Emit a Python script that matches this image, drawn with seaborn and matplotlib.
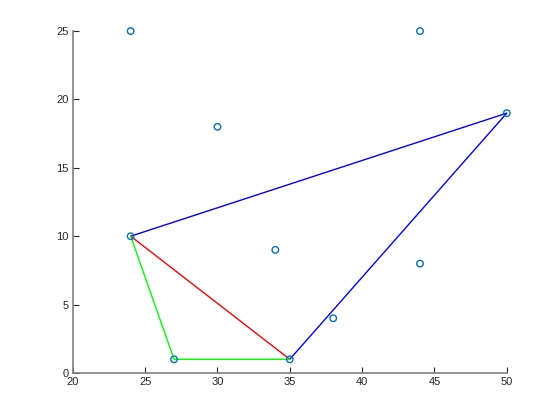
import pandas as pd
import seaborn as sns
import matplotlib.pyplot as plt

# -----------------------------
# Data
# -----------------------------
pts_x = [24, 44, 30, 50, 24, 34, 44, 38, 27, 35]
pts_y = [25, 25, 18, 19, 10, 9, 8, 4, 1, 1]

blue_x = [24, 50, 35]
blue_y = [10, 19, 1]
red_x = [24, 35]
red_y = [10, 1]
green_x = [24, 27, 35]
green_y = [10, 1, 1]

x_ticks = [20, 25, 30, 35, 40, 45, 50]
y_ticks = [0, 5, 10, 15, 20, 25]

# -----------------------------
# Plot
# -----------------------------
sns.set_style("white")
plt.rcParams["font.family"] = ["Liberation Sans", "DejaVu Sans"]

fig = plt.figure(figsize=(5.6, 4.2), dpi=100)
ax = fig.add_axes([0.13, 0.112, 0.775, 0.814])

pts = pd.DataFrame({"x": pts_x, "y": pts_y})
sns.scatterplot(data=pts, x="x", y="y", ax=ax, marker="o", s=22,
                facecolors="none", edgecolor="#0072BD", linewidth=1.0,
                zorder=3, clip_on=False)

sns.lineplot(x=blue_x, y=blue_y, ax=ax, color="#0000FF", linewidth=1.0,
             sort=False, estimator=None, clip_on=False)
sns.lineplot(x=red_x, y=red_y, ax=ax, color="#FF0000", linewidth=1.0,
             sort=False, estimator=None, clip_on=False)
sns.lineplot(x=green_x, y=green_y, ax=ax, color="#00FF00", linewidth=1.0,
             sort=False, estimator=None, clip_on=False)

ax.set_xlim(20, 50)
ax.set_ylim(0, 25)
ax.set_xticks(x_ticks)
ax.set_yticks(y_ticks)
ax.set_xlabel("")
ax.set_ylabel("")

for side in ["top", "right"]:
    ax.spines[side].set_visible(False)
for side in ["left", "bottom"]:
    ax.spines[side].set_color("#808080")
    ax.spines[side].set_linewidth(1.2)

ax.tick_params(direction="in", length=4, width=0.8, color="#262626",
               labelsize=8, labelcolor="#262626", pad=3,
               left=True, bottom=True)

fig.savefig("out.png", dpi=100)
